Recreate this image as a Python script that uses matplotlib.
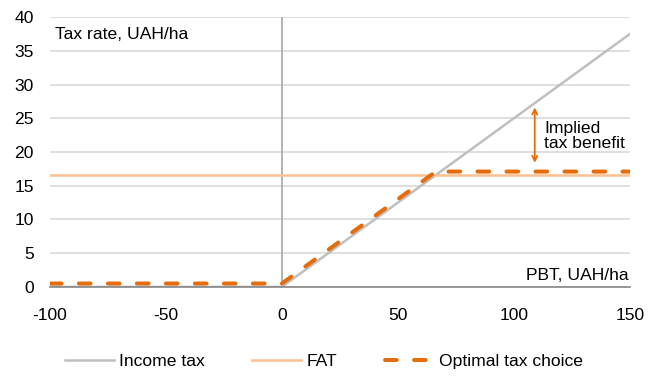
import matplotlib
matplotlib.use("Agg")
import matplotlib.pyplot as plt

plt.rcParams['font.family'] = ['Liberation Sans', 'DejaVu Sans']
plt.rcParams['axes.unicode_minus'] = False

# Data
income_x = [-100, 0, 150]
income_y = [0, 0, 37.5]
fat_x = [-100, 150]
fat_y = [16.6, 16.6]
opt_x = [-100, 0, 66.4, 150]
opt_y = [0.5, 0.5, 17.1, 17.1]
xticks = [-100, -50, 0, 50, 100, 150]
yticks = [0, 5, 10, 15, 20, 25, 30, 35, 40]

FS = 12.6

fig = plt.figure(figsize=(6.48, 3.8), dpi=100)
ax = fig.add_axes([0.077, 0.245, 0.895, 0.71])

ax.set_xlim(-100, 150)
ax.set_ylim(0, 40)
ax.set_xticks(xticks)
ax.set_yticks(yticks)
ax.grid(axis='y', color='#d9d9d9', linewidth=1.2)
ax.set_axisbelow(True)
for s in ['top', 'right', 'left']:
    ax.spines[s].set_visible(False)
ax.spines['bottom'].set_color('#868686')
ax.spines['bottom'].set_linewidth(1.2)
ax.tick_params(length=0, labelsize=FS, colors='black')
ax.tick_params(axis='x', pad=15.5)
ax.tick_params(axis='y', pad=11.5)
ax.axvline(0, color='#a6a6a6', linewidth=1.2, zorder=1)

l1, = ax.plot(income_x, income_y, color='#bfbfbf', linewidth=1.8, label='Income tax', zorder=2)
l2, = ax.plot(fat_x, fat_y, color='#fac090', linewidth=1.8, label='FAT', zorder=2)
l3, = ax.plot(opt_x, opt_y, color='#e46c0a', linewidth=2.9, dashes=(2.9, 4.3),
              label='Optimal tax choice', zorder=3, dash_capstyle='round')

ax.annotate('', xy=(109, 26.6), xytext=(109, 18.4),
            arrowprops=dict(arrowstyle='<->', color='#e46c0a', lw=1.3,
                            mutation_scale=9, shrinkA=0, shrinkB=0))
ax.text(113.2, 22.3, 'Implied\ntax benefit', fontsize=FS, va='center', ha='left',
        linespacing=1.0)
ax.text(-97.8, 37.4, 'Tax rate, UAH/ha', fontsize=FS, va='center', ha='left')
ax.text(149.5, 1.7, 'PBT, UAH/ha', fontsize=FS, va='center', ha='right')

fig.legend(handles=[l1, l2, l3], loc='center', bbox_to_anchor=(0.5, 0.048),
           ncol=3, frameon=False, fontsize=FS, handlelength=2.8,
           handletextpad=0.3, columnspacing=2.7)

fig.savefig('out.png', dpi=100)
